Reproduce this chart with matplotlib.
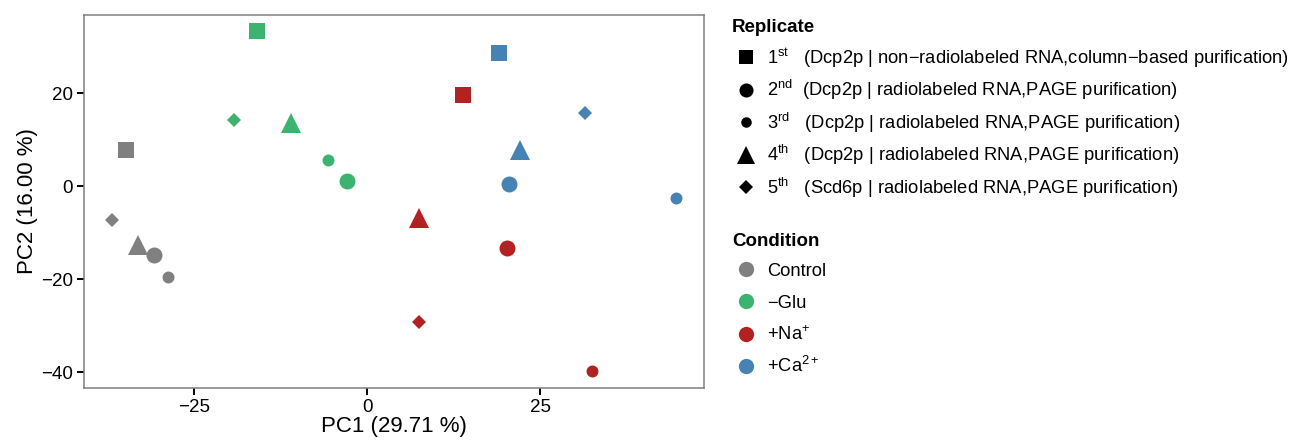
import numpy as np
import matplotlib.pyplot as plt
from matplotlib.lines import Line2D

plt.rcParams['font.family'] = ['Liberation Sans', 'DejaVu Sans']
plt.rcParams['mathtext.fontset'] = 'custom'
plt.rcParams['mathtext.rm'] = 'Liberation Sans'
plt.rcParams['mathtext.it'] = 'Liberation Sans'
plt.rcParams['mathtext.default'] = 'regular'

# PCA scores
pc1 = [-34.8, -36.8, -33.1, -30.8, -28.8,
       -15.9, -19.2, -11.0, -5.6, -2.9,
       13.9, 7.5, 20.2, 7.5, 32.5,
       19.1, 31.5, 22.1, 20.5, 44.7]
pc2 = [7.7, -7.3, -12.7, -14.8, -19.6,
       33.3, 14.2, 13.5, 5.6, 1.1,
       19.6, -6.9, -13.3, -29.2, -39.8,
       28.6, 15.7, 7.7, 0.4, -2.6]
condition = ['Control'] * 5 + ['-Glu'] * 5 + ['+Na'] * 5 + ['+Ca'] * 5
replicate = ['1st', '5th', '4th', '2nd', '3rd',
             '1st', '5th', '4th', '3rd', '2nd',
             '1st', '4th', '2nd', '5th', '3rd',
             '1st', '5th', '4th', '2nd', '3rd']

cond_levels = ['Control', '-Glu', '+Na', '+Ca']
cond_labels = ['Control', '\u2212Glu', '+Na$^{+}$', '+Ca$^{2+}$']
rep_levels = ['1st', '2nd', '3rd', '4th', '5th']
rep_labels = ['1$^{st}$   (Dcp2p | non\u2212radiolabeled RNA,column\u2212based purification)',
              '2$^{nd}$  (Dcp2p | radiolabeled RNA,PAGE purification)',
              '3$^{rd}$   (Dcp2p | radiolabeled RNA,PAGE purification)',
              '4$^{th}$   (Dcp2p | radiolabeled RNA,PAGE purification)',
              '5$^{th}$   (Scd6p | radiolabeled RNA,PAGE purification)']

colors = {'Control': '#808080', '-Glu': '#3CB371', '+Na': '#B22222', '+Ca': '#4682B4'}
markers = {'1st': 's', '2nd': 'o', '3rd': 'o', '4th': '^', '5th': 'D'}
msize = {'1st': 11.5, '2nd': 11.5, '3rd': 8.6, '4th': 14.0, '5th': 7.6}

W, H = 1299, 441
fig = plt.figure(figsize=(W / 100, H / 100), dpi=100)
ax = fig.add_axes([0.0647, 0.120, 0.4773, 0.846])

pc1 = np.array(pc1)
pc2 = np.array(pc2)
for i in range(len(pc1)):
    r = replicate[i]
    ax.plot(pc1[i], pc2[i], linestyle='none', marker=markers[r], markersize=msize[r],
            color=colors[condition[i]], markeredgewidth=0)

ax.set_xlim(-40.9, 48.7)
ax.set_ylim(-43.4, 36.8)
ax.set_xticks([-25, 0, 25])
ax.set_yticks([-40, -20, 0, 20])
for s in ax.spines.values():
    s.set_color('#7f7f7f')
    s.set_linewidth(1.1)
ax.tick_params(direction='out', length=5, width=1.4, color='black',
               labelsize=13.5, labelcolor='black', pad=3)
ax.set_xlabel('PC1 (29.71 %)', fontsize=16, labelpad=0)
ax.set_ylabel('PC2 (16.00 %)', fontsize=16, labelpad=2)


# legends, laid out in figure pixels
def fx(x):
    return x / W


def fy(y):
    return 1 - y / H


def legend_block(title, title_y, first_y, step, handles, labels):
    fig.text(fx(732), fy(title_y + 6.5), title, fontsize=13.5, fontweight='bold',
             va='baseline', ha='left')
    for k, (mk, ms, col, lab) in enumerate(zip(*handles, labels)):
        yc = first_y + k * step
        fig.add_artist(Line2D([fx(746)], [fy(yc)], transform=fig.transFigure,
                              linestyle='none', marker=mk, markersize=ms,
                              color=col, markeredgewidth=0))
        fig.text(fx(767), fy(yc + 6.6), lab, fontsize=13.2, va='baseline', ha='left')


legend_block('Replicate', 26, 57, 32.5,
             ([markers[r] for r in rep_levels],
              [msize[r] * 0.88 for r in rep_levels],
              ['black'] * len(rep_levels)),
             rep_labels)
legend_block('Condition', 239, 269, 32.3,
             (['o'] * len(cond_levels), [11] * len(cond_levels),
              [colors[c] for c in cond_levels]),
             cond_labels)

fig.savefig('out.png', dpi=100)
